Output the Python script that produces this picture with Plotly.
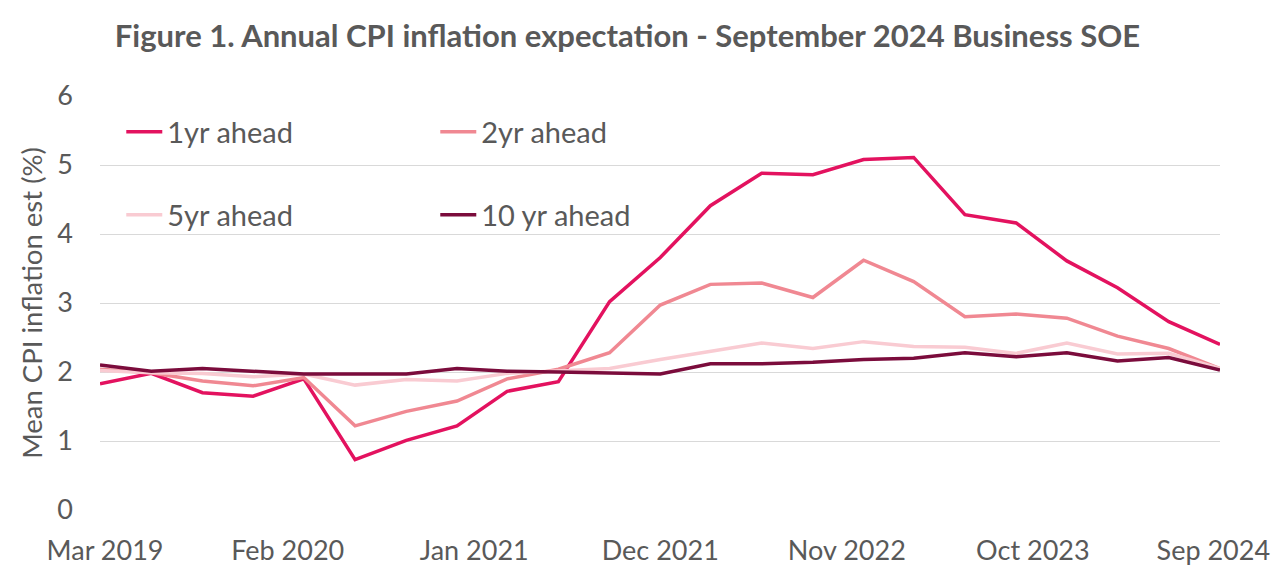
import plotly.graph_objects as go
import pandas as pd

# Quarterly survey dates (Mar 2019 .. Sep 2024)
quarters = pd.date_range("2019-03-01", "2024-09-01", freq="3MS")

one_yr = [1.83, 1.98, 1.70, 1.65, 1.90, 0.73, 1.01, 1.22, 1.72, 1.86, 3.02, 3.66,
          4.41, 4.88, 4.86, 5.08, 5.11, 4.28, 4.16, 3.61, 3.22, 2.73, 2.40]
two_yr = [2.04, 1.99, 1.87, 1.80, 1.92, 1.22, 1.43, 1.58, 1.90, 2.04, 2.28, 2.97,
          3.27, 3.29, 3.08, 3.62, 3.31, 2.80, 2.84, 2.78, 2.52, 2.34, 2.05]
five_yr = [2.02, 1.99, 1.98, 1.93, 1.97, 1.81, 1.89, 1.87, 1.98, 2.01, 2.05, 2.18,
           2.30, 2.42, 2.34, 2.44, 2.37, 2.36, 2.27, 2.42, 2.26, 2.27, 2.05]
ten_yr = [2.10, 2.01, 2.05, 2.01, 1.97, 1.97, 1.97, 2.05, 2.01, 2.00, 1.99, 1.97,
          2.12, 2.12, 2.14, 2.18, 2.20, 2.28, 2.22, 2.28, 2.16, 2.21, 2.03]

# label positions (edge labels nudged inward, as in the original chart)
tick_dates = ["2019-03-10", "2020-02-01", "2021-01-01", "2021-12-01",
              "2022-11-01", "2023-10-01", "2024-08-20"]
tick_labels = ["Mar 2019", "Feb 2020", "Jan 2021", "Dec 2021",
               "Nov 2022", "Oct 2023", "Sep 2024"]

series = [
    ("1yr ahead", one_yr, "#E3125F", "legend"),
    ("2yr ahead", two_yr, "#F08892", "legend"),
    ("5yr ahead", five_yr, "#F9CBD2", "legend2"),
    ("10 yr ahead", ten_yr, "#7B0C3C", "legend2"),
]

FONT = "Lato"
GREY = "#595959"

W, H = 1272, 562          # page body adds an 8px margin
PLOT_TOP, PLOT_BOTTOM = 88, 502
PLOT_H = PLOT_BOTTOM - PLOT_TOP

fig = go.Figure()
for name, vals, color, leg in series:
    fig.add_trace(go.Scatter(
        x=quarters, y=vals, name=name, mode="lines",
        line=dict(color=color, width=3.5),
        legend=leg,
    ))

legend_common = dict(
    orientation="h", xanchor="left", yanchor="middle",
    entrywidth=263, entrywidthmode="pixels",
    bgcolor="rgba(0,0,0,0)", borderwidth=0,
    font=dict(family=FONT, size=29, color=GREY),
    itemwidth=36,
)

fig.update_layout(
    width=W, height=H,
    paper_bgcolor="white", plot_bgcolor="white",
    margin=dict(l=92, r=60, t=PLOT_TOP, b=H - PLOT_BOTTOM, autoexpand=False),
    title=dict(
        text="<b>Figure 1. Annual CPI inflation expectation - September 2024 Business SOE</b>",
        x=0.487, xanchor="center", y=1 - 28 / H, yanchor="middle",
        font=dict(family=FONT, size=31, color=GREY),
    ),
    legend=dict(x=0.019, y=(PLOT_BOTTOM - 124) / PLOT_H, **legend_common),
    legend2=dict(x=0.019, y=(PLOT_BOTTOM - 207) / PLOT_H, **legend_common),
    xaxis=dict(
        type="date",
        range=[quarters[0], quarters[-1]],
        tickvals=tick_dates, ticktext=tick_labels,
        showgrid=False, zeroline=False, showline=False,
        ticks="", ticklabelstandoff=22, automargin=False,
        ticklabeloverflow="allow",
        tickfont=dict(family=FONT, size=27, color=GREY),
    ),
    yaxis=dict(
        range=[0, 6], dtick=1,
        showgrid=True, gridcolor="#D9D9D9", gridwidth=1,
        zeroline=False, showline=False, ticks="", automargin=False,
        ticklabelstandoff=26,
        tickfont=dict(family=FONT, size=27, color=GREY),
        title=dict(text="Mean CPI inflation est (%)",
                   font=dict(family=FONT, size=27.5, color=GREY), standoff=6),
    ),
)

fig.write_html("out.html")
